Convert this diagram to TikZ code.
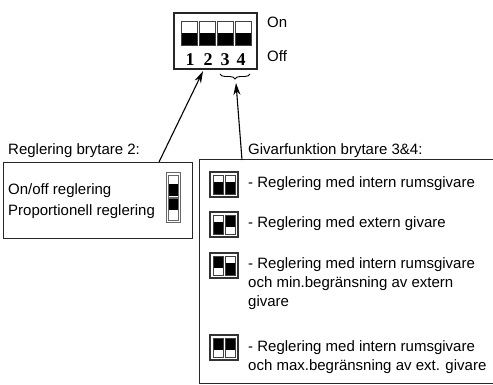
\documentclass[tikz,border=0pt]{standalone}
\usepackage{fontspec}
\setmainfont{Liberation Sans}
\newfontfamily\numfont{Liberation Serif}
\usetikzlibrary{arrows.meta,decorations.pathreplacing,positioning}
\tikzset{
  lbl/.style={anchor=base west,inner sep=0pt,font=\fontsize{15}{18}\selectfont},
  num/.style={inner sep=0pt,font=\numfont\bfseries\fontsize{18}{20}\selectfont},
  frame/.style={draw=black!85,line width=1pt,anchor=north west,inner sep=0pt},
  openframe/.style={anchor=north west,inner sep=0pt},
  cell/.style={draw=black!75,line width=0.7pt},
  pointer/.style={line width=1.1pt,-{Stealth[length=12pt,width=7pt]}},
}
\newcommand{\swpair}[4]{%
  \begin{scope}[shift={(#1,#2)}]
    \fill (3,#3) rectangle ++(10,12);
    \fill (15,#4) rectangle ++(10,12);
    \draw[cell] (3,3) rectangle (13,22);
    \draw[cell] (15,3) rectangle (25,22);
    \draw[line width=2pt,black!80] (0,0) rectangle (28,25);
  \end{scope}}
\begin{document}
\begin{tikzpicture}[x=1pt,y=-1pt]
  \useasboundingbox (0,0) rectangle (493,385);

  \draw[line width=1.6pt,black!85] (174,13) rectangle (257,69);
  \foreach \x in {181,199,217,235}{
    \fill (\x,33) rectangle ++(16,13);
    \draw[cell,line width=1pt] (\x,22) rectangle ++(16,24);
  }
  \node[num] (n1) at (190,60) {1};
  \node[num] (n2) at (208,60) {2};
  \node[num] (n3) at (225,60) {3};
  \node[num] (n4) at (241,60) {4};
  \node[lbl] (on) at (267,28) {On};
  \node[lbl] (off) at (267,62) {Off};
  \draw[decorate,decoration={brace,mirror,amplitude=5pt},line width=0.9pt] (220,74) -- (250,74);
  \coordinate (brtip) at (236,83);

  \node[lbl] (ltitle) at (8,155) {Reglering brytare 2:};
  \node[frame,minimum width=189pt,minimum height=76pt] (lbox) at (3,162) {};
  \node[lbl] (onoff) at (8,195) {On/off reglering};
  \node[lbl] (prop) at (8,215) {Proportionell reglering};
  \fill (168,184) rectangle (178,196);
  \fill (168,198) rectangle (178,210);
  \draw[cell,black!60,line width=1pt] (166,173) rectangle (180,222);
  \draw[cell,black!60] (168,175) rectangle (178,197) (168,198) rectangle (178,220);

  \node[lbl] (rtitle) at (248,155) {Givarfunktion brytare 3\&4:};
  \node[openframe,minimum width=294pt,minimum height=223pt] (rbox) at (199,160) {};
  \draw[black!85,line width=1pt] (rbox.north east) -- (rbox.north west) -- (rbox.south west) -- (rbox.south east);

  \swpair{210}{172}{10}{10}
  \node[lbl] (t1) at (248,188) {- Reglering med intern rumsgivare};
  \swpair{210}{212}{10}{3}
  \node[lbl] (t2) at (248,228) {- Reglering med extern givare};
  \swpair{210}{253}{3}{10}
  \node[lbl] (t3a) at (248,268) {- Reglering med intern rumsgivare};
  \node[lbl] (t3b) at (248,287) {och min.begränsning av extern};
  \node[lbl] (t3c) at (248,306) {givare};
  \swpair{210}{335}{3}{3}
  \node[lbl] (t4a) at (248,351) {- Reglering med intern rumsgivare};
  \node[lbl] (t4b) at (248,370) {och max.begränsning av ext. givare};

  \draw[pointer] ([xshift=-34pt]lbox.north east) -- ([xshift=-5pt,yshift=-5pt]n2.south);
  \draw[pointer] ([xshift=43pt]rbox.north west) -- (brtip);
\end{tikzpicture}
\end{document}
